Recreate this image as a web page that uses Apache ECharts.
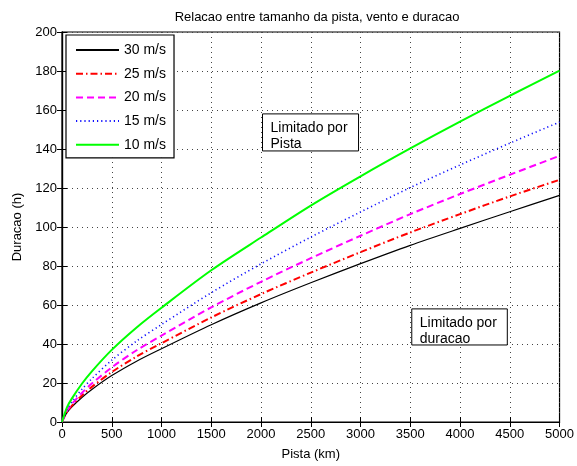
<!DOCTYPE html>
<html>
<head>
<meta charset="utf-8">
<script src="https://cdn.jsdelivr.net/npm/echarts@6/dist/echarts.min.js"></script>
<style>
  html, body { margin: 0; padding: 0; background: #fff; }
  #chart { width: 577px; height: 466px; }
</style>
</head>
<body>
<div id="chart"></div>
<script>
// Fetch length (km) sampled along the x axis
var pista = [0, 50, 100, 200, 300, 500, 750, 1000, 1500, 2000, 2500, 3000, 3500, 4000, 4500, 5000];

// Duration (h) for each wind speed
var u30 = [0, 4.8, 7.8, 12.6, 16.7, 23.8, 31.2, 37.6, 49.9, 61.1, 71.4, 81.2, 90.6, 99.3, 107.8, 116.2];
var u25 = [0, 5.2, 8.4, 13.6, 18.0, 25.6, 33.6, 40.4, 53.6, 65.6, 76.6, 87.1, 97.2, 106.6, 115.7, 124.2];
var u20 = [0, 5.7, 9.2, 14.9, 19.7, 28.0, 36.8, 44.3, 58.8, 71.9, 84.0, 95.5, 106.6, 116.9, 126.8, 136.5];
var u15 = [0, 6.4, 10.4, 16.8, 22.2, 31.7, 41.5, 50.0, 66.3, 81.1, 94.8, 107.7, 120.2, 131.8, 143.0, 153.8];
var u10 = [0, 7.5, 12.1, 19.6, 26.0, 37.0, 48.5, 58.6, 77.8, 94.6, 111.0, 126.0, 140.3, 154.0, 167.3, 180.2];

var seriesNames = ['30 m/s', '25 m/s', '20 m/s', '15 m/s', '10 m/s'];

var FONT = '"Liberation Sans", Arial, sans-serif';

function pairs(ys) {
  return pista.map(function (x, i) { return [x, ys[i]]; });
}

var styles = [
  { color: '#000000', width: 1.2, type: 'solid' },
  { color: '#ff0000', width: 2, type: [7, 3, 1.5, 3] },
  { color: '#ff00ff', width: 2, type: [7, 4] },
  { color: '#1010ff', width: 1.6, type: [1.2, 3] },
  { color: '#00ff00', width: 2, type: 'solid' }
];
var values = [u30, u25, u20, u15, u10];

var series = seriesNames.map(function (name, i) {
  return {
    name: name,
    type: 'line',
    data: pairs(values[i]),
    symbol: 'none',
    smooth: 0.3,
    animation: false,
    lineStyle: styles[i],
    itemStyle: { color: styles[i].color },
    z: 3
  };
});

var gridLine = { show: true, lineStyle: { color: '#444', width: 1, type: [1, 4] } };
var plainNumber = function (v) { return String(v); };

var option = {
  backgroundColor: '#fff',
  animation: false,
  title: {
    text: 'Relacao entre tamanho da pista, vento e duracao',
    left: 312, top: 6, textAlign: 'center',
    textStyle: { fontFamily: FONT, fontSize: 13, fontWeight: 'normal', color: '#000' }
  },
  grid: { left: 62, right: 15, top: 32, bottom: 40, show: true, borderColor: '#000', borderWidth: 1.2, backgroundColor: 'transparent' },
  legend: {
    orient: 'vertical',
    left: 66, top: 35,
    padding: [8, 8, 6, 9],
    itemGap: 9.7,
    itemWidth: 43, itemHeight: 14,
    borderColor: '#000', borderWidth: 1.2,
    backgroundColor: '#fff',
    itemStyle: { opacity: 0 },
    textStyle: { fontFamily: FONT, fontSize: 14, color: '#000' },
    data: seriesNames
  },
  xAxis: [{
    type: 'value', min: 0, max: 5000, interval: 500,
    name: 'Pista (km)', nameLocation: 'middle', nameGap: 26,
    nameTextStyle: { fontFamily: FONT, fontSize: 13, color: '#000' },
    axisLine: { show: true, lineStyle: { color: '#000', width: 1.2 } },
    axisTick: { show: true, inside: true, length: 5, lineStyle: { color: '#000' } },
    axisLabel: { fontFamily: FONT, fontSize: 13, color: '#000', margin: 6, formatter: plainNumber },
    splitLine: gridLine
  }, {
    type: 'value', min: 0, max: 5000, interval: 500, position: 'top',
    axisLine: { show: true, lineStyle: { color: '#000', width: 1.2 } },
    axisTick: { show: true, inside: true, length: 5, lineStyle: { color: '#000' } },
    axisLabel: { show: false }, splitLine: { show: false }
  }],
  yAxis: [{
    type: 'value', min: 0, max: 200, interval: 20,
    name: 'Duracao (h)', nameLocation: 'middle', nameGap: 36,
    nameTextStyle: { fontFamily: FONT, fontSize: 13, color: '#000' },
    axisLine: { show: true, lineStyle: { color: '#000', width: 1.2 } },
    axisTick: { show: true, inside: true, length: 5, lineStyle: { color: '#000' } },
    axisLabel: { fontFamily: FONT, fontSize: 13, color: '#000', margin: 5, formatter: plainNumber },
    splitLine: gridLine
  }, {
    type: 'value', min: 0, max: 200, interval: 20, position: 'right',
    axisLine: { show: true, lineStyle: { color: '#000', width: 1.2 } },
    axisTick: { show: true, inside: true, length: 5, lineStyle: { color: '#000' } },
    axisLabel: { show: false }, splitLine: { show: false }
  }],
  series: series
};

var chart = echarts.init(document.getElementById('chart'), null, { renderer: 'canvas' });
chart.setOption(option);

// Annotation boxes placed in data coordinates
function noteBox(x0, y0, x1, y1, text) {
  var p0 = chart.convertToPixel({ gridIndex: 0 }, [x0, y0]);
  var p1 = chart.convertToPixel({ gridIndex: 0 }, [x1, y1]);
  return {
    type: 'group',
    children: [{
      type: 'rect',
      shape: { x: p0[0], y: p0[1], width: p1[0] - p0[0], height: p1[1] - p0[1] },
      style: { fill: '#fff', stroke: '#000', lineWidth: 1 },
      z: 10
    }, {
      type: 'text',
      x: p0[0] + 8, y: p0[1] + 6,
      style: { text: text, font: '14px ' + FONT, fill: '#000', lineHeight: 16 },
      z: 11
    }]
  };
}

chart.setOption({
  graphic: [
    noteBox(2015, 158, 2980, 139, 'Limitado por\nPista'),
    noteBox(3515, 58, 4475, 39.5, 'Limitado por\nduracao')
  ]
});
</script>
</body>
</html>
